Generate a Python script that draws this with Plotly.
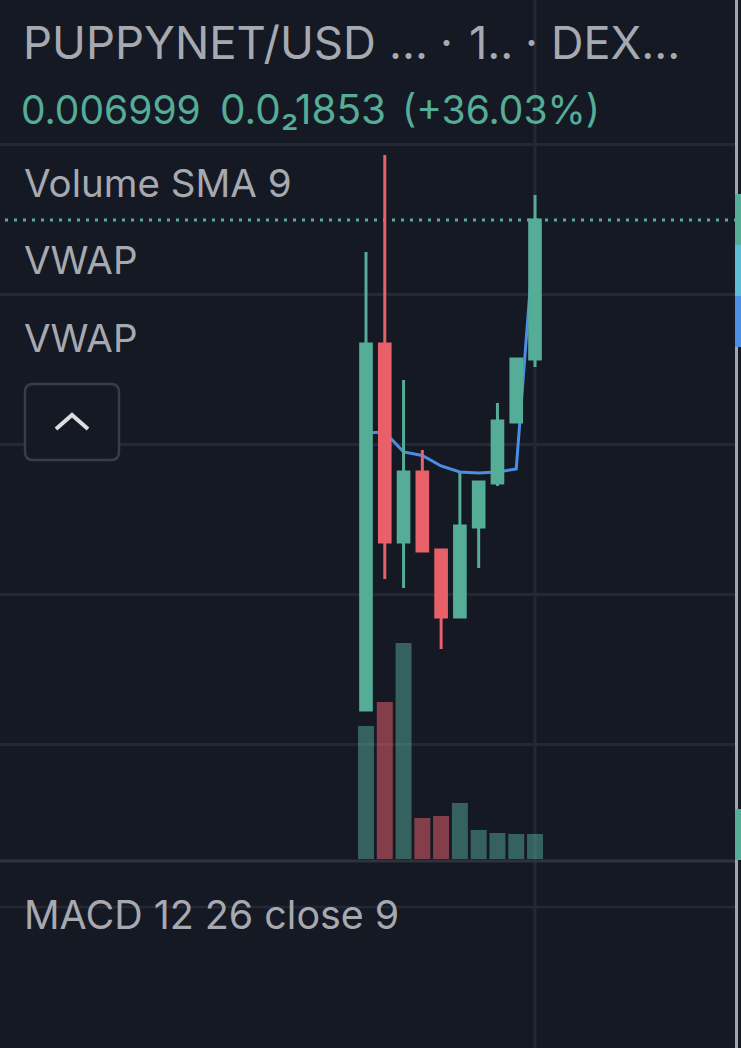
import plotly.graph_objects as go

# 캔들 데이터
candle_idx = [0, 1, 2, 3, 4, 5, 6, 7, 8, 9]
open_price = [0.000467, 0.005347, 0.002707, 0.003640, 0.002600, 0.001707, 0.002907, 0.003493, 0.004307, 0.005146]
high_price = [0.006573, 0.007867, 0.004867, 0.003933, 0.002600, 0.003627, 0.003507, 0.004560, 0.005147, 0.007333]
low_price = [0.000467, 0.002213, 0.002093, 0.002587, 0.001280, 0.001707, 0.002360, 0.003453, 0.004307, 0.005040]
close_price = [0.005347, 0.002707, 0.003640, 0.002587, 0.001707, 0.002920, 0.003507, 0.004320, 0.005147, 0.006999]

vwap = [0.004160, 0.004173, 0.003907, 0.003860, 0.003720, 0.003640, 0.003627, 0.003640, 0.003680, 0.006933]
volume = [133, 157, 216, 41, 43, 56, 29, 26, 25, 25]
volume_up = [True, False, True, False, False, True, True, True, True, True]

grid_prices = [0.008, 0.006, 0.004, 0.002, 0]
last_price = 0.006999

BG = '#151924'
GRID = '#252833'
UP = '#55ac97'
DOWN = '#e8606a'
BLUE = '#4a8fe3'
GRAY = '#a7a9b0'
W, H = 741, 1048

# 픽셀 위치 -> paper 좌표
def px(x):
    return x / W

def py(y):
    return 1 - y / H

price_range = [-0.00404, 0.009933]
volume_range = [-189, 859]
x_range = [-19.49, 19.65]

fig = go.Figure()

fig.add_trace(
    go.Scatter(
        x = candle_idx, y = vwap, mode = 'lines', yaxis = 'y',
        line = dict(color = BLUE, width = 3), hoverinfo = 'skip'))

fig.add_trace(
    go.Bar(
        x = candle_idx, y = volume, yaxis = 'y2', width = 0.85,
        marker = dict(color = ['rgba(85,172,151,0.5)' if u else 'rgba(233,97,107,0.53)' for u in volume_up], line_width = 0)))

fig.add_trace(
    go.Candlestick(
        x = candle_idx, open = open_price, high = high_price, low = low_price, close = close_price,
        yaxis = 'y3', whiskerwidth = 0,
        increasing = dict(line = dict(color = UP, width = 3), fillcolor = UP),
        decreasing = dict(line = dict(color = DOWN, width = 3), fillcolor = DOWN)))

# 둥근 모서리 버튼 경로
def round_rect(x0, y0, x1, y1, r):
    return (f'M {px(x0 + r)} {py(y0)} L {px(x1 - r)} {py(y0)} Q {px(x1)} {py(y0)} {px(x1)} {py(y0 + r)} '
            f'L {px(x1)} {py(y1 - r)} Q {px(x1)} {py(y1)} {px(x1 - r)} {py(y1)} '
            f'L {px(x0 + r)} {py(y1)} Q {px(x0)} {py(y1)} {px(x0)} {py(y1 - r)} '
            f'L {px(x0)} {py(y0 + r)} Q {px(x0)} {py(y0)} {px(x0 + r)} {py(y0)} Z')

shapes = [
    # 크로스헤어, 구분선
    dict(type = 'line', xref = 'paper', yref = 'paper', x0 = px(535), x1 = px(535), y0 = 0, y1 = 1,
         line = dict(color = GRID, width = 3), layer = 'below'),
    dict(type = 'line', xref = 'paper', yref = 'paper', x0 = 0, x1 = px(735), y0 = py(861), y1 = py(861),
         line = dict(color = '#2f323c', width = 3), layer = 'below'),
    dict(type = 'line', xref = 'paper', yref = 'paper', x0 = 0, x1 = px(735), y0 = py(907), y1 = py(907),
         line = dict(color = GRID, width = 2.5), layer = 'below'),
    # 현재가 점선
    dict(type = 'line', xref = 'paper', yref = 'y', x0 = px(5), x1 = px(735), y0 = last_price, y1 = last_price,
         line = dict(color = UP, width = 3, dash = '3px,6px'), layer = 'below'),
    # 오른쪽 끝 회색선, 가격 태그
    dict(type = 'rect', xref = 'paper', yref = 'paper', x0 = px(735), x1 = px(738), y0 = 0, y1 = 1,
         fillcolor = '#a3a5ab', line_width = 0),
    dict(type = 'rect', xref = 'paper', yref = 'paper', x0 = px(735), x1 = 1, y0 = py(245), y1 = py(194),
         fillcolor = UP, line_width = 0),
    dict(type = 'rect', xref = 'paper', yref = 'paper', x0 = px(735), x1 = 1, y0 = py(296), y1 = py(245),
         fillcolor = '#5bbcd6', line_width = 0),
    dict(type = 'rect', xref = 'paper', yref = 'paper', x0 = px(735), x1 = 1, y0 = py(347), y1 = py(296),
         fillcolor = BLUE, line_width = 0),
    dict(type = 'rect', xref = 'paper', yref = 'paper', x0 = px(735), x1 = 1, y0 = py(860), y1 = py(809),
         fillcolor = UP, line_width = 0),
    # 접기 버튼
    dict(type = 'path', xref = 'paper', yref = 'paper', path = round_rect(25, 384, 119, 460, 8),
         fillcolor = BG, line = dict(color = '#3a3d48', width = 2.5)),
    dict(type = 'path', xref = 'paper', yref = 'paper',
         path = f'M {px(56)} {py(429)} L {px(72)} {py(415)} L {px(88)} {py(429)}',
         line = dict(color = '#dcdde2', width = 4)),
]

def label(text, x, y, size, color):
    # annotation 기본 여백 3px 보정
    fig.add_annotation(
        xref = 'paper', yref = 'paper', x = px(x - 3), y = py(y), text = text, showarrow = False,
        xanchor = 'left', yanchor = 'middle', align = 'left',
        font = dict(family = 'Inter', size = size, color = color))

label('PUPPYNET/USD', 24, 43, 45.5, GRAY)
label('...', 390, 43, 45, GRAY)
label('·', 441, 43, 45, GRAY)
label('1..', 470, 43, 45, GRAY)
label('·', 526, 43, 45, GRAY)
label('DEX...', 552, 43, 45, GRAY)
label('0.006999', 22, 110, 39, UP)
label('0.0₂1853', 221, 110, 40.5, UP)
label('(+36.03%)', 403, 110, 39, UP)
label('Volume SMA 9', 25, 183, 38.5, GRAY)
label('VWAP', 25, 260, 38.5, GRAY)
label('VWAP', 25, 338, 38.5, GRAY)
label('MACD 12 26 close 9', 25, 915, 39.4, GRAY)

fig.update_layout(
    {
        'width' : W, 'height' : H,
        'margin' : dict(l = 0, r = 0, t = 0, b = 0),
        'paper_bgcolor' : BG, 'plot_bgcolor' : BG,
        'showlegend' : False,
        'boxgap' : 0.19,
        'shapes' : shapes,
        'xaxis' : {'domain' : [0, px(735)], 'range' : x_range, 'visible' : False, 'rangeslider' : {'visible' : False}},
        'yaxis' : {'domain' : [0, 1], 'range' : price_range, 'tickvals' : grid_prices, 'showticklabels' : False,
                   'gridcolor' : GRID, 'gridwidth' : 2.5, 'zeroline' : False, 'ticks' : ''},
        'yaxis2' : {'range' : volume_range, 'visible' : False, 'overlaying' : 'y'},
        'yaxis3' : {'range' : price_range, 'visible' : False, 'overlaying' : 'y'},
    })

fig.write_html("out.html", config = {'displayModeBar' : False},
               post_script = "document.body.style.margin='0';document.body.style.background='#151924';")
